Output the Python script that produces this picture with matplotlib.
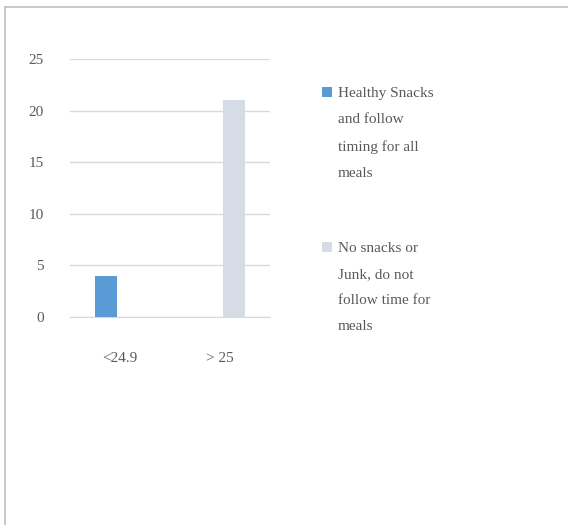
import numpy as np
import matplotlib.pyplot as plt
from matplotlib.lines import Line2D
from matplotlib.patches import Rectangle

# data
categories = ['<24.9', '> 25']
series_names = ['Healthy Snacks\nand follow\ntiming for all\nmeals',
                'No snacks or\nJunk, do not\nfollow time for\nmeals']
healthy = [4, 0]
no_snacks = [0, 21]
colors = ['#5b9bd5', '#d6dce5']

plt.rcParams['font.family'] = ['Liberation Serif', 'DejaVu Serif']
text_color = '#595959'
grid_color = '#d9d9d9'

W, H = 568, 525
fig = plt.figure(figsize=(W / 100, H / 100), dpi=100)

def px(x, y):
    # pixel coords (top-left origin) -> figure fraction
    return x / W, 1 - y / H

# axes placed to match the reference plot area
ax = fig.add_axes([70 / W, 1 - 317 / H, 200 / W, 258 / H])

x = np.arange(len(categories))
bw = 0.22
off = 0.142
b1 = ax.bar(x - off, healthy, bw, color=colors[0], zorder=3)
b2 = ax.bar(x + off, no_snacks, bw, color=colors[1], zorder=3)

ax.set_xlim(-0.5, len(categories) - 0.5)
ax.set_ylim(0, 25)
ax.set_yticks(range(0, 26, 5))
ax.set_xticks(x)
ax.set_xticklabels(categories)
ax.yaxis.grid(True, color=grid_color, lw=1, zorder=0)
for s in ['top', 'right', 'left']:
    ax.spines[s].set_visible(False)
ax.spines['bottom'].set_color(grid_color)
ax.tick_params(axis='both', length=0, labelsize=11, labelcolor=text_color)
ax.tick_params(axis='y', pad=19)
ax.tick_params(axis='x', pad=25)

# legend drawn by hand so wrapped labels line up like the reference
leg_pos = [(322, 87), (322, 242)]
for bars, name, (hx, hy) in zip([b1, b2], series_names, leg_pos):
    fx, fy = px(hx, hy + 10)
    fig.add_artist(Rectangle((fx, fy), 10 / W, 10 / H,
                             facecolor=bars.patches[0].get_facecolor(),
                             transform=fig.transFigure, lw=0))
    tx, ty = px(338, hy)
    fig.text(tx, ty, name, fontsize=11, color=text_color,
             va='top', ha='left', linespacing=2.3)

# chart border (top and left edges visible)
fig.add_artist(Line2D([4.5 / W, 4.5 / W], [0, 1 - 6.5 / H],
                      color='#bfbfbf', lw=1.2, transform=fig.transFigure))
fig.add_artist(Line2D([4.5 / W, 1], [1 - 6.5 / H, 1 - 6.5 / H],
                      color='#bfbfbf', lw=1.2, transform=fig.transFigure))

fig.savefig('out.png', dpi=100)
